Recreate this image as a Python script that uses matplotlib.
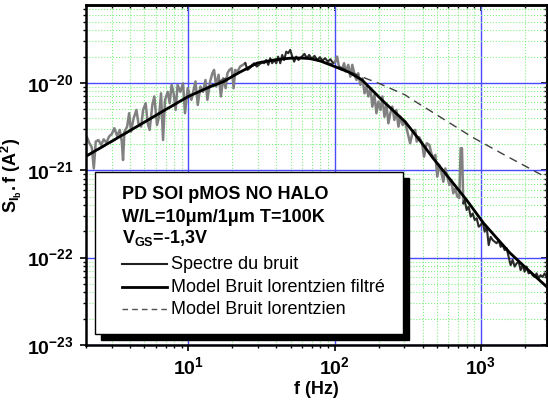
import numpy as np
import matplotlib.pyplot as plt
from matplotlib.patches import Rectangle
from matplotlib.ticker import LogLocator, NullFormatter

plt.rcParams['font.family'] = ['Liberation Sans', 'DejaVu Sans']
plt.rcParams['mathtext.fontset'] = 'custom'
plt.rcParams['mathtext.rm'] = 'Liberation Sans:bold'
plt.rcParams['mathtext.it'] = 'Liberation Sans:bold'
plt.rcParams['mathtext.bf'] = 'Liberation Sans:bold'
plt.rcParams['mathtext.default'] = 'bf'

unit = 1e-21  # values below are in units of 1e-21 A^2

# measured noise spectrum, 4 acquisition segments
f_spec_a = [1.95, 2.03, 2.11, 2.19, 2.26, 2.33, 2.43, 2.54, 2.64, 2.76, 2.87, 3.0, 3.12, 3.26,
            3.40, 3.51, 3.58, 3.66, 3.82, 3.94, 4.06, 4.23, 4.42, 4.56, 4.76, 4.91, 5.11, 5.28,
            5.44, 5.68, 5.86, 6.11, 6.31, 6.51, 6.72, 6.93, 7.23, 7.46, 7.69, 7.94, 8.19, 8.45,
            8.82, 9.2, 9.49, 9.9, 10.2, 10.5, 10.8, 11.2, 11.6, 12.1, 12.6, 13.1, 13.5, 14.1,
            14.6, 15.0, 15.5, 16.1, 16.7, 17.3, 18.0, 18.5, 19.1, 19.8, 20.4, 20.9, 21.7, 22.6,
            23.6, 24.5]
s_spec_a = [2.13, 2.39, 2.04, 1.83, 1.05, 2.13, 2.22, 1.95, 2.26, 2.07, 2.43, 2.6, 3.03, 2.47,
            2.9, 2.13, 1.31, 2.77, 3.16, 4.5, 2.77, 3.95, 4.9, 3.45, 3.16, 4.9, 5.85, 3.45,
            2.9, 5.6, 7.0, 3.3, 4.1, 7.6, 2.22, 6.4, 7.9, 5.85, 9.5, 7.6, 4.9, 9.5,
            7.9, 9.9, 4.5, 8.7, 7.3, 6.4, 7.9, 10.4, 5.6, 9.1, 7.9, 10.8, 6.4, 10.4,
            12.9, 14.1, 9.1, 12.4, 7.0, 11.3, 8.7, 12.9, 14.1, 14.7, 8.7, 14.1, 13.5, 15.4,
            16.1, 16.8]

f_spec_b = [24.5, 25.4, 26.2, 27.3, 28.2, 29.4, 30.4, 31.7, 33.0, 34.1, 35.2, 36.3, 37.4, 38.6,
            39.9, 41.1, 42.5, 43.8, 45.2, 46.7, 48.2, 49.7, 51.3, 52.9, 54.6, 56.6, 59.7, 62.2,
            64.6, 67.0, 69.9, 72.8, 76.0, 79.3, 82.6, 86.1, 89.9, 93.6, 97.7, 100.8]
s_spec_b = [16.8, 14.1, 14.7, 16.1, 16.8, 15.4, 16.1, 17.5, 16.8, 18.3, 16.1, 19.2, 16.8, 18.3,
            16.8, 20.0, 16.8, 20.9, 18.3, 22.8, 21.9, 23.9, 20.0, 17.5, 20.0, 18.3, 20.0, 21.5,
            19.2, 20.9, 18.7, 20.4, 18.3, 19.7, 18.0, 19.2, 17.5, 18.7, 16.8, 17.5]

f_spec_c = [100.8, 104, 107, 112, 116, 119, 124, 128, 132, 137, 141, 145, 150, 155, 160, 165,
            170, 176, 181, 187, 193, 199, 206, 212, 219, 226, 233, 240, 248, 256, 264, 273,
            281, 292, 303, 314, 328, 342, 355, 364, 379, 396, 408, 426, 444, 458, 472, 488,
            503, 519, 536, 553, 571, 589, 608, 627, 647, 668, 689, 711, 727, 742, 757]
s_spec_c = [17.5, 20.0, 15.4, 14.1, 16.8, 13.5, 16.1, 11.8, 16.1, 12.4, 10.8, 12.9, 9.5, 11.3,
            7.6, 9.1, 7.0, 8.7, 5.35, 7.3, 4.5, 6.1, 4.9, 7.0, 4.1, 5.6, 3.45, 4.5, 5.35, 3.77,
            4.9, 3.16, 4.1, 3.3, 3.6, 2.77, 2.04, 2.77, 2.9, 2.13, 2.39, 2.04, 1.43, 2.04, 1.95,
            1.57, 1.37, 1.50, 0.845, 1.15, 0.965, 0.74, 1.05, 0.845, 0.68, 0.774, 0.545, 0.62,
            0.50, 0.48, 1.79, 1.79, 0.42]

f_spec_d = [757, 774, 798, 824, 851, 878, 906, 935, 965, 996, 1028, 1060, 1094, 1129, 1165,
            1202, 1241, 1280, 1321, 1363, 1407, 1452, 1498, 1546, 1595, 1646, 1699, 1753, 1809,
            1867, 1926, 1988, 2051, 2117, 2184, 2254, 2326, 2400, 2477, 2556, 2637, 2722, 2809]
s_spec_d = [0.42, 0.457, 0.351, 0.383, 0.294, 0.321, 0.27, 0.282, 0.226, 0.236, 0.258, 0.198,
            0.226, 0.139, 0.173, 0.159, 0.152, 0.146, 0.159, 0.133, 0.139, 0.122, 0.128, 0.102,
            0.082, 0.094, 0.079, 0.086, 0.090, 0.072, 0.082, 0.069, 0.079, 0.066, 0.069, 0.063,
            0.060, 0.066, 0.058, 0.063, 0.060, 0.066, 0.060]

# filtered lorentzian model
f_filt = [2, 3, 5, 7, 10, 14, 17.3, 22, 29.6, 40, 49.7, 58, 63, 70, 80, 100, 125, 154, 180,
          210, 250, 303, 380, 470, 600, 797, 1040, 1300, 1580, 2000, 2830]
s_filt = [1.45, 2.15, 3.55, 4.95, 7.0, 9.0, 10.3, 13.0, 16.9, 18.5, 19.2, 19.3, 19.2, 18.8,
          17.8, 15.4, 13.3, 10.8, 8.3, 6.4, 4.87, 3.6, 2.23, 1.38, 0.83, 0.458, 0.249, 0.163,
          0.113, 0.078, 0.046]

# lorentzian model
f_lor = [2, 5, 10, 17.3, 29.6, 40, 55, 70, 100, 154, 206, 303, 331, 500, 870, 1500, 2830]
s_lor = [1.42, 3.5, 6.9, 11.0, 16.2, 18.6, 19.3, 18.6, 16.3, 11.7, 9.7, 7.3, 6.6, 4.3, 2.4,
         1.45, 0.82]

legend_title = ['PD SOI pMOS NO HALO', 'W/L=10μm/1μm T=100K', 'V$_{GS}$=-1,3V']
legend_labels = ['Spectre du bruit', 'Model Bruit lorentzien filtré', 'Model Bruit lorentzien']

fig = plt.figure(figsize=(5.48, 4.09), dpi=100)
ax = fig.add_axes([0.157, 0.1565, 0.8413, 0.8313])

sc = lambda v: np.array(v) * unit
ax.plot(f_lor, sc(s_lor), color='#404040', lw=1.0, ls=(0, (6, 4)), zorder=3)
ax.plot(f_spec_a, sc(s_spec_a), color='#808080', lw=1.8, zorder=2)
ax.plot(f_spec_b, sc(s_spec_b), color='#2a2a2a', lw=1.5, zorder=2)
ax.plot(f_spec_c, sc(s_spec_c), color='#808080', lw=1.8, zorder=2)
ax.plot(f_spec_d, sc(s_spec_d), color='#2a2a2a', lw=1.5, zorder=2)
ax.plot(f_filt, sc(s_filt), color='black', lw=2.0, zorder=4)

ax.set_xscale('log')
ax.set_yscale('log')
ax.set_xlim(2, 2830)
ax.set_ylim(1e-23, 7.8e-20)

ax.set_xticks([10, 100, 1000], [r'$10^1$', r'$10^2$', r'$10^3$'])
ax.set_yticks([1e-23, 1e-22, 1e-21, 1e-20], [r'$10^{-23}$', r'$10^{-22}$', r'$10^{-21}$', r'$10^{-20}$'])
for axis in (ax.xaxis, ax.yaxis):
    axis.set_minor_locator(LogLocator(base=10, subs=np.arange(2, 10)))
    axis.set_minor_formatter(NullFormatter())
ax.tick_params(which='major', labelsize=14, length=4, width=1.2, pad=4)
ax.tick_params(which='minor', length=2.5, width=1)
ax.tick_params(axis='y', which='major', pad=5)

# mirrored ticks pointing inward on top and right
top = ax.secondary_xaxis('top')
right = ax.secondary_yaxis('right')
for sec, axis in ((top, top.xaxis), (right, right.yaxis)):
    axis.set_major_locator(LogLocator(base=10))
    axis.set_minor_locator(LogLocator(base=10, subs=np.arange(2, 10)))
    axis.set_major_formatter(NullFormatter())
    axis.set_minor_formatter(NullFormatter())
    sec.tick_params(which='major', direction='in', length=4, width=1.2)
    sec.tick_params(which='minor', direction='in', length=2.5, width=1)
    for sp in sec.spines.values():
        sp.set_linewidth(1.8)

ax.grid(which='major', color='#4a4aff', lw=1.0, zorder=0)
ax.grid(which='minor', color='#80f080', lw=0.8, ls=':', zorder=0)
ax.set_axisbelow(True)
for sp in ax.spines.values():
    sp.set_linewidth(1.8)

ax.set_xlabel('f (Hz)', fontsize=13, fontweight='bold', labelpad=2)
ax.set_ylabel(r'$S_{I_b}.f\ (A^2)$', fontsize=13, labelpad=2)

# legend box with black shadow
x0, x1, y0, y1 = 0.0195, 0.688, 0.032, 0.509
dx, dy = 0.013, 0.017
ax.add_patch(Rectangle((x0 + dx, y0 - dy), x1 - x0, y1 - y0, transform=ax.transAxes,
                       facecolor='black', edgecolor='black', zorder=5, clip_on=False))
ax.add_patch(Rectangle((x0, y0), x1 - x0, y1 - y0, transform=ax.transAxes,
                       facecolor='white', edgecolor='black', lw=1.0, zorder=6))

tx = 0.078
title_y = [0.444, 0.376, 0.314]
for txt, yy in zip(legend_title, title_y):
    ax.text(tx, yy, txt, transform=ax.transAxes, fontsize=13, fontweight='bold',
            va='center', ha='left', zorder=7)

entry_y = [0.237, 0.170, 0.105]
styles = [dict(color='#202020', lw=1.5, ls='-'),
          dict(color='black', lw=2.0, ls='-'),
          dict(color='#505050', lw=1.0, ls=(0, (4, 3)))]
for lab, yy, st in zip(legend_labels, entry_y, styles):
    ax.plot([0.078, 0.176], [yy, yy], transform=ax.transAxes, zorder=7, **st)
    ax.text(0.185, yy, lab, transform=ax.transAxes, fontsize=13, va='center', ha='left', zorder=7)

fig.savefig('out.png', dpi=100)
